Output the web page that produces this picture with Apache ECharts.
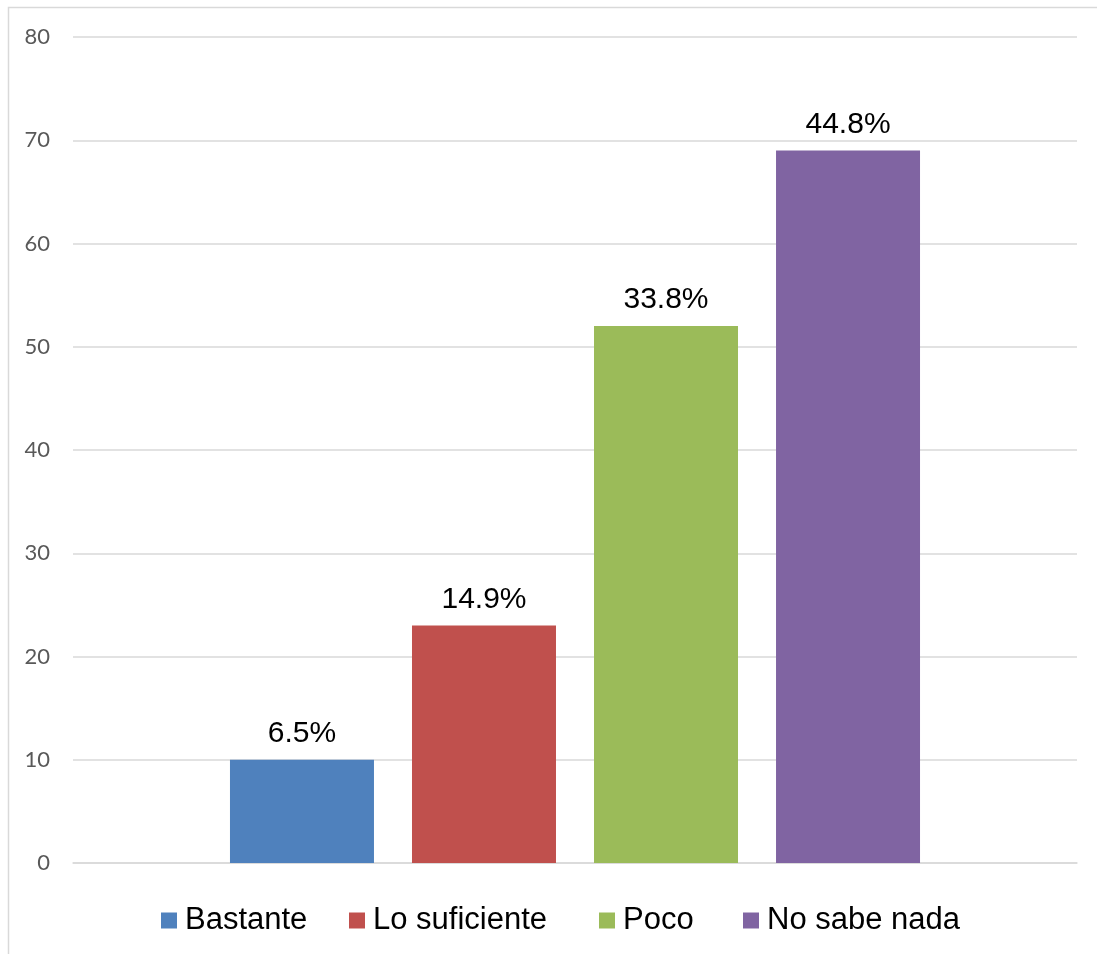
<!DOCTYPE html>
<html>
<head>
<meta charset="utf-8">
<script src="https://cdn.jsdelivr.net/npm/echarts@6/dist/echarts.min.js"></script>
<style>
  html, body { margin: 0; padding: 0; background: #ffffff; }
  #chart { width: 1097px; height: 954px; }
</style>
</head>
<body>
<div id="chart"></div>
<script>
// Survey responses (counts); labels show each share of the total
const categories = ['Bastante', 'Lo suficiente', 'Poco', 'No sabe nada'];
const counts = [10, 23, 52, 69];
const colors = ['#4F81BD', '#C0504D', '#9BBB59', '#8064A2'];
const yTicks = { min: 0, max: 80, interval: 10 };

// horizontal offsets of each legend entry
const legendLeft = [156, 344, 594, 738];

const total = counts.reduce((a, b) => a + b, 0);

const series = categories.map((name, i) => ({
  name: name,
  type: 'bar',
  data: [counts[i]],
  barWidth: 144,
  barGap: '26.4%',
  itemStyle: { color: colors[i] },
  label: {
    show: true,
    position: 'top',
    distance: 11,
    color: '#000000',
    fontFamily: 'Liberation Sans, Arial, sans-serif',
    fontSize: 30,
    formatter: p => (p.value / total * 100).toFixed(1) + '%'
  }
}));

const legends = categories.map((name, i) => ({
  left: legendLeft[i],
  top: 900,
  icon: 'rect',
  itemWidth: 16,
  itemHeight: 16,
  textStyle: {
    color: '#000000',
    fontFamily: 'Liberation Sans, Arial, sans-serif',
    fontSize: 31,
    padding: [0, 0, 0, 3]
  },
  data: [name]
}));

const chart = echarts.init(document.getElementById('chart'), null, { renderer: 'canvas' });
chart.setOption({
  animation: false,
  backgroundColor: '#ffffff',
  graphic: [{
    type: 'rect',
    shape: { x: 8.5, y: 7.5, width: 1200, height: 1200 },
    style: { fill: 'none', stroke: '#d9d9d9', lineWidth: 1.5 },
    silent: true
  }],
  grid: { left: 73, right: 20, top: 37, bottom: 91, containLabel: false },
  legend: legends,
  xAxis: {
    type: 'category',
    data: [''],
    axisLine: { show: true, lineStyle: { color: '#d9d9d9', width: 1.5 } },
    axisTick: { show: false },
    axisLabel: { show: false }
  },
  yAxis: {
    type: 'value',
    min: yTicks.min,
    max: yTicks.max,
    interval: yTicks.interval,
    axisLine: { show: false },
    axisTick: { show: false },
    axisLabel: {
      color: '#595959',
      fontFamily: 'Lato, Calibri, sans-serif',
      fontSize: 22,
      margin: 23
    },
    splitLine: { lineStyle: { color: '#d9d9d9', width: 1.5 } }
  },
  series: series
});
</script>
</body>
</html>
